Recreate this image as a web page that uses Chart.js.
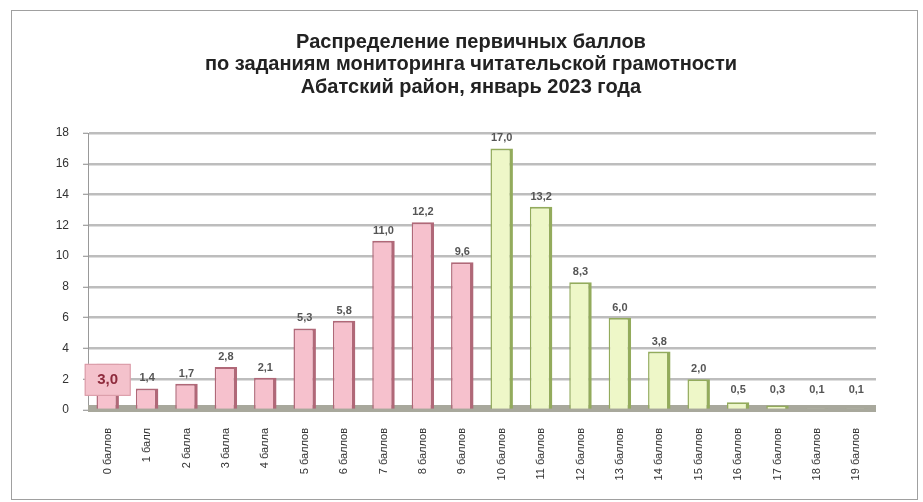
<!DOCTYPE html>
<html>
<head>
<meta charset="utf-8">
<script src="https://cdn.jsdelivr.net/npm/chart.js@4"></script>
<style>
  html, body { margin: 0; padding: 0; background: #fff; }
  #wrap { position: relative; width: 923px; height: 502px; }
</style>
</head>
<body>
<div id="wrap"><canvas id="chart" width="923" height="502"></canvas></div>
<script>
const titleLines = [
  'Распределение первичных баллов',
  'по заданиям мониторинга читательской грамотности',
  'Абатский район, январь 2023 года'
];

const categories = [
  '0 баллов', '1 балл', '2 балла', '3 балла', '4 балла',
  '5 баллов', '6 баллов', '7 баллов', '8 баллов', '9 баллов',
  '10 баллов', '11 баллов', '12 баллов', '13 баллов', '14 баллов',
  '15 баллов', '16 баллов', '17 баллов', '18 баллов', '19 баллов'
];

const values = [
  3.0, 1.4, 1.7, 2.8, 2.1, 5.3, 5.8, 11.0, 12.2, 9.6,
  17.0, 13.2, 8.3, 6.0, 3.8, 2.0, 0.5, 0.3, 0.1, 0.1
];

const yTicks = [0, 2, 4, 6, 8, 10, 12, 14, 16, 18];

const firstGreen = 10; // bars from here on are drawn green

const fmt = v => v.toFixed(1).replace('.', ',');

// frame + title, drawn by hand so the title can sit where the original has it
const frameAndTitle = {
  id: 'frameAndTitle',
  beforeDraw(chart) {
    const ctx = chart.ctx;
    ctx.save();
    ctx.fillStyle = '#fff';
    ctx.fillRect(0, 0, chart.width, chart.height);
    ctx.strokeStyle = '#a0a0a0';
    ctx.lineWidth = 1;
    ctx.strokeRect(11.5, 10.5, 906, 489);
    ctx.fillStyle = '#222';
    ctx.font = 'bold 20px "Liberation Sans", Arial, sans-serif';
    ctx.textAlign = 'center';
    ctx.textBaseline = 'middle';
    titleLines.forEach((t, i) => ctx.fillText(t, 471, 42 + i * 22.5));
    ctx.restore();
  }
};

const floorBand = {
  id: 'floorBand',
  beforeDatasetsDraw(chart) {
    const { ctx, chartArea } = chart;
    const y0 = chart.scales.y.getPixelForValue(0);
    ctx.save();
    ctx.fillStyle = '#a8a89c';
    ctx.fillRect(chartArea.left, y0 - 5, chartArea.right - chartArea.left, 7);
    ctx.restore();
  }
};

const valueLabels = {
  id: 'valueLabels',
  afterDatasetsDraw(chart) {
    const ctx = chart.ctx;
    const meta = chart.getDatasetMeta(0);
    ctx.save();
    ctx.textAlign = 'center';
    meta.data.forEach((bar, i) => {
      const txt = fmt(values[i]);
      if (i === 0) {
        ctx.fillStyle = '#f4c2cc';
        ctx.strokeStyle = '#d899a5';
        ctx.lineWidth = 1;
        ctx.fillRect(bar.x - 23, bar.y, 46, 32);
        ctx.strokeRect(bar.x - 23 + 0.5, bar.y + 0.5, 45, 31);
        ctx.fillStyle = '#8e2a3c';
        ctx.font = 'bold 15px "Liberation Sans", Arial, sans-serif';
        ctx.textBaseline = 'middle';
        ctx.fillText(txt, bar.x, bar.y + 16);
      } else {
        ctx.fillStyle = '#555';
        ctx.font = 'bold 11px "Liberation Sans", Arial, sans-serif';
        ctx.textBaseline = 'alphabetic';
        ctx.fillText(txt, bar.x, Math.min(bar.y, 400) - 7);
      }
    });
    ctx.restore();
  }
};

new Chart(document.getElementById('chart'), {
  type: 'bar',
  data: {
    labels: categories,
    datasets: [{
      data: values,
      backgroundColor: values.map((v, i) => i < firstGreen ? '#f6c1cd' : '#eef7c8'),
      borderColor: values.map((v, i) => i < firstGreen ? '#b06878' : '#93ab5c'),
      borderWidth: { left: 1.5, right: 3.5, top: 2, bottom: 0 },
      borderSkipped: false,
      categoryPercentage: 1,
      barPercentage: 0.57
    }]
  },
  options: {
    responsive: false,
    animation: false,
    layout: { padding: { left: 28, right: 47, top: 133, bottom: 20 } },
    plugins: {
      legend: { display: false },
      title: { display: false },
      tooltip: { enabled: false }
    },
    scales: {
      x: {
        grid: { display: false },
        border: { display: false },
        ticks: {
          maxRotation: 90,
          minRotation: 90,
          padding: 10,
          color: '#333',
          font: { family: '"Liberation Sans", Arial, sans-serif', size: 11 }
        },
        afterFit: s => { s.height = 72; }
      },
      y: {
        min: 0,
        max: 18,
        afterBuildTicks: s => { s.ticks = yTicks.map(v => ({ value: v })); },
        grid: {
          color: '#bdbdbd',
          lineWidth: 2.5,
          tickLength: 5,
          tickWidth: 1,
          tickColor: '#888'
        },
        border: { display: true, color: '#999', width: 1 },
        ticks: {
          padding: 14,
          color: '#333',
          font: { family: '"Liberation Sans", Arial, sans-serif', size: 12 }
        },
        afterFit: s => { s.width = 60; }
      }
    }
  },
  plugins: [frameAndTitle, floorBand, valueLabels]
});
</script>
</body>
</html>
